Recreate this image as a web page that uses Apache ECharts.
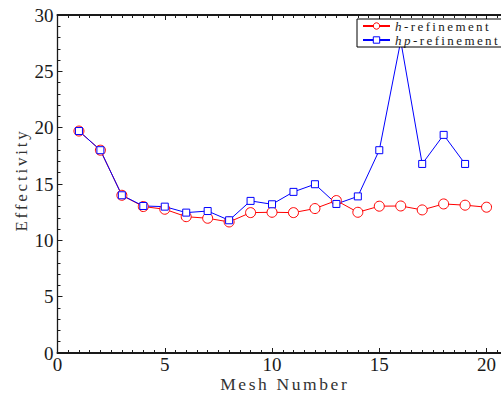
<!DOCTYPE html>
<html>
<head>
<meta charset="utf-8">
<script src="https://cdn.jsdelivr.net/npm/echarts@6/dist/echarts.min.js"></script>
<style>
  html, body { margin: 0; padding: 0; background: #fff; overflow: hidden; }
  /* the original figure is cut off just before x = 21, so the chart is a bit wider than the window */
  #chart { width: 508px; height: 396px; }
  /* spaced out text like the original TeX fonts */
  #chart text[style*="17.5px"] { letter-spacing: 2.6px; }
  #chart text[style*="17px"] { letter-spacing: 2.8px; }
  #chart text[style*="13px"] { letter-spacing: 2.4px; }
</style>
</head>
<body>
<div id="chart"></div>
<script>
// mesh numbers
const meshH = [1, 2, 3, 4, 5, 6, 7, 8, 9, 10, 11, 12, 13, 14, 15, 16, 17, 18, 19, 20]
const meshHp = [1, 2, 3, 4, 5, 6, 7, 8, 9, 10, 11, 12, 13, 14, 15, 16, 17, 18, 19]
// effectivity values
const effH = [19.7, 18.0, 14.0, 13.0, 12.76, 12.1, 11.96, 11.63, 12.46, 12.49,
  12.46, 12.82, 13.53, 12.49, 13.03, 13.05, 12.7, 13.23, 13.12, 12.94]
const effHp = [19.7, 18.0, 14.0, 13.05, 12.99, 12.46, 12.6, 11.78, 13.5, 13.2,
  14.3, 14.98, 13.23, 13.9, 18.0, 27.7, 16.78, 19.36, 16.78]
const seriesNames = ['h-refinement', 'hp-refinement']

const font = '"Liberation Serif", "Times New Roman", serif'
const ink = '#1a1a1a'

function pairs(xs, ys) {
  return xs.map((x, i) => [x, ys[i]])
}

const chart = echarts.init(document.getElementById('chart'), null, { renderer: 'svg' })

const xBase = {
  type: 'value',
  min: 0,
  max: 21,
  interval: 5,
  axisLine: { show: true, lineStyle: { color: ink, width: 2 } },
  axisTick: { show: true, inside: true, length: 5, lineStyle: { color: ink } },
  minorTick: { show: true, splitNumber: 10, length: 3, lineStyle: { color: ink } },
  splitLine: { show: false }
}

chart.setOption({
  animation: false,
  backgroundColor: '#fff',
  grid: { left: 57.5, top: 15, right: 0, height: 338, outerBoundsMode: 'none', containLabel: false },
  legend: {
    orient: 'vertical',
    left: 357,
    top: 19,
    padding: [0, 28, 0, 5],
    itemGap: 0,
    itemWidth: 27,
    itemHeight: 8,
    selectedMode: false,
    backgroundColor: '#fff',
    borderColor: '#000',
    borderWidth: 1,
    z: 10,
    itemStyle: { borderWidth: 1 },
    data: seriesNames,
    formatter: (n) => {
      const k = n.indexOf('-')
      const head = n.slice(0, k)
      return '{' + (head.length > 1 ? 'i2' : 'i1') + '|' + head + '}' + n.slice(k)
    },
    textStyle: {
      fontFamily: font,
      fontSize: 13,
      lineHeight: 14,
      color: ink,
      rich: {
        i1: { fontFamily: font, fontSize: 13, lineHeight: 14, fontStyle: 'italic', color: ink, padding: [0, 2.5, 0, 0] },
        i2: { fontFamily: font, fontSize: 13, lineHeight: 14, fontStyle: 'italic', color: ink, padding: [0, 5, 0, 0] }
      }
    }
  },
  xAxis: [
    Object.assign({}, xBase, {
      position: 'bottom',
      name: 'Mesh Number',
      nameLocation: 'middle',
      nameGap: 22,
      nameMoveOverlap: false,
      nameTextStyle: { fontFamily: font, fontSize: 17.5, color: '#333', padding: [0, 0, 0, 4] },
      axisLabel: { fontFamily: font, fontSize: 19, color: ink, margin: 2, showMaxLabel: false }
    }),
    Object.assign({}, xBase, {
      position: 'top',
      axisLabel: { show: false }
    })
  ],
  yAxis: {
    type: 'value',
    min: 0,
    max: 30,
    interval: 5,
    name: 'Effectivity',
    nameLocation: 'middle',
    nameGap: 28,
    nameMoveOverlap: false,
    nameTextStyle: { fontFamily: font, fontSize: 17, color: '#333', padding: [0, 0, 0, 8] },
    axisLine: { show: true, lineStyle: { color: ink, width: 1.3 } },
    axisTick: { show: true, inside: true, length: 5, lineStyle: { color: ink } },
    minorTick: { show: true, splitNumber: 5, length: 3, lineStyle: { color: ink } },
    splitLine: { show: false },
    axisLabel: { fontFamily: font, fontSize: 19, color: ink, margin: 4 }
  },
  series: [
    {
      name: seriesNames[0],
      type: 'line',
      data: pairs(meshH, effH),
      symbol: 'circle',
      symbolSize: 10,
      lineStyle: { color: '#ff0000', width: 1 },
      itemStyle: { color: '#fff', borderColor: '#ff0000', borderWidth: 1 }
    },
    {
      name: seriesNames[1],
      type: 'line',
      data: pairs(meshHp, effHp),
      symbol: 'rect',
      symbolSize: 7,
      lineStyle: { color: '#0000ff', width: 1 },
      itemStyle: { color: '#fff', borderColor: '#0000ff', borderWidth: 1 }
    }
  ]
})
</script>
</body>
</html>
